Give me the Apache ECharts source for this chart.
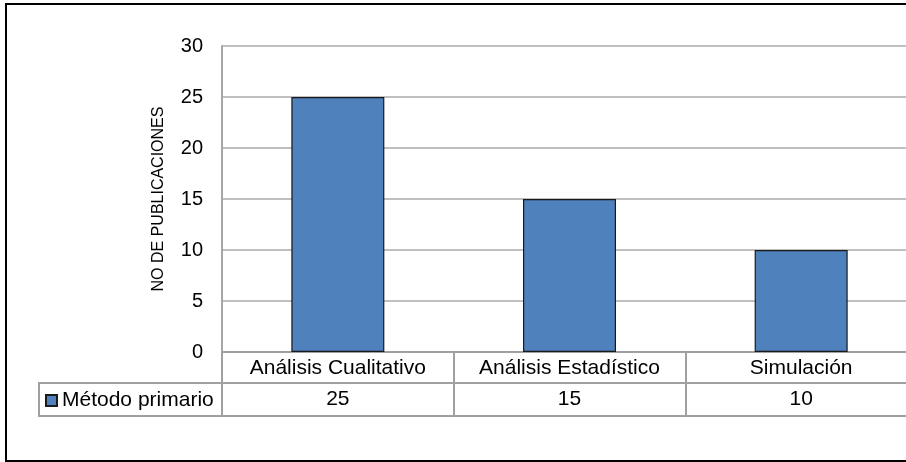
<!DOCTYPE html>
<html>
<head>
<meta charset="utf-8">
<script src="https://cdn.jsdelivr.net/npm/echarts@6/dist/echarts.min.js"></script>
<style>
  html, body { margin: 0; padding: 0; background: #fff; }
  #chart { width: 906px; height: 462px; }
</style>
</head>
<body>
<div id="chart"></div>
<script>
const categories = ['Análisis Cualitativo', 'Análisis Estadístico', 'Simulación']
const seriesName = 'Método primario'
const values = [25, 15, 10]
const yMin = 0
const yMax = 30
const yStep = 5
const yTitle = 'NO DE PUBLICACIONES'

const font = '"Liberation Sans", Arial, sans-serif'
const tableLine = { color: '#a0a0a0', width: 2 }

const chart = echarts.init(document.getElementById('chart'))

chart.setOption({
  animation: false,
  backgroundColor: '#fff',
  textStyle: { fontFamily: font },
  // the plot runs past the right edge of the picture, as in the reference
  grid: { left: 222, width: 695, top: 46, bottom: 110, outerBoundsMode: 'none', containLabel: false },
  legend: {
    left: 40,
    top: 385,
    icon: 'rect',
    itemWidth: 11,
    itemHeight: 11,
    textStyle: { fontSize: 21, color: '#000', fontFamily: font },
    data: [seriesName]
  },
  xAxis: [
    {
      type: 'category',
      data: categories,
      position: 'bottom',
      axisLine: { lineStyle: tableLine },
      axisTick: { show: true, interval: 0, length: 64, lineStyle: tableLine },
      axisLabel: { interval: 0, fontSize: 21, color: '#000', margin: 6, fontFamily: font }
    },
    {
      type: 'category',
      data: categories,
      position: 'bottom',
      offset: 31,
      axisLine: { lineStyle: tableLine },
      axisTick: { show: false },
      axisLabel: {
        interval: 0, fontSize: 21, color: '#000', margin: 6, fontFamily: font,
        formatter: (v, i) => String(values[i])
      }
    },
    {
      type: 'category',
      data: categories,
      position: 'bottom',
      offset: 64,
      axisLine: { lineStyle: tableLine },
      axisTick: { show: false },
      axisLabel: { show: false }
    }
  ],
  yAxis: {
    type: 'value',
    min: yMin,
    max: yMax,
    interval: yStep,
    name: yTitle,
    nameLocation: 'middle',
    nameRotate: 90,
    nameGap: 55,
    nameTextStyle: { fontSize: 16, color: '#000', fontFamily: font },
    axisLine: { show: true, lineStyle: { color: '#a6a6a6', width: 2 } },
    axisTick: { show: false },
    axisLabel: { fontSize: 20, color: '#000', margin: 19, fontFamily: font },
    splitLine: { lineStyle: { color: '#c0c0c0', width: 2 } }
  },
  series: [
    {
      name: seriesName,
      type: 'bar',
      data: values,
      barWidth: 93,
      itemStyle: { color: '#4f81bd', borderColor: '#1a1a1a', borderWidth: 1.2 }
    }
  ],
  graphic: [
    // outer frame
    { type: 'rect', shape: { x: 6, y: 4, width: 940, height: 457 }, style: { fill: 'none', stroke: '#000', lineWidth: 2 }, silent: true },
    // legend cell of the data table
    { type: 'polyline', shape: { points: [[222, 383], [39, 383], [39, 416], [222, 416]] }, style: { fill: 'none', stroke: '#a0a0a0', lineWidth: 2 }, silent: true }
  ]
})
</script>
</body>
</html>
